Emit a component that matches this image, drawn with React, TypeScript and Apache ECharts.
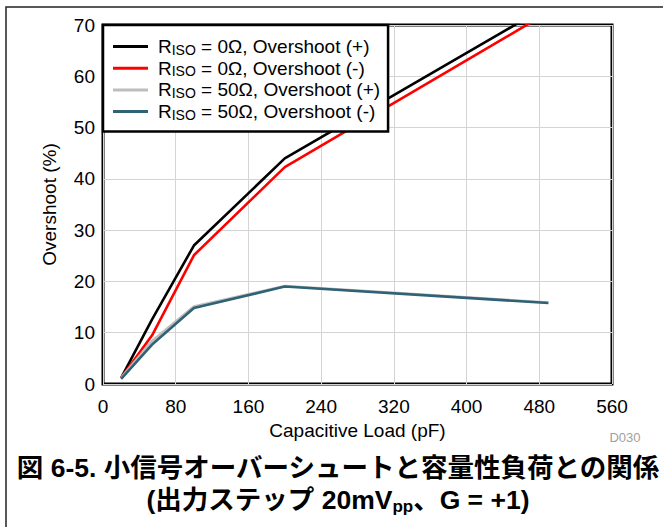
import React, { useEffect, useRef } from "react";
import * as echarts from "echarts";

const capLoad = [20, 54, 100, 200, 490];
const r0Pos = [1.2, 12.6, 27.0, 44.0, 73.8];
const r0Neg = [1.2, 9.5, 25.1, 42.3, 72.5];
const r50Pos = [1.2, 8.4, 15.1, 19.1, 15.9];
const r50Neg = [1.0, 7.7, 14.8, 19.0, 15.8];

const seriesNames = ["R0P", "R0N", "R50P", "R50N"];
const legendLabels: Record<string, string> = {
  R0P: "{g| }{a|R}{b|ISO}{a| = 0Ω, Overshoot (+)}",
  R0N: "{g| }{a|R}{b|ISO}{a| = 0Ω, Overshoot (-)}",
  R50P: "{g| }{a|R}{b|ISO}{a| = 50Ω, Overshoot (+)}",
  R50N: "{g| }{a|R}{b|ISO}{a| = 50Ω, Overshoot (-)}",
};
const colors = ["#000000", "#ff0000", "#bdbdbd", "#2f6275"];

const FONT = "'Liberation Sans', Arial, Helvetica, sans-serif";
const CJK = "'Liberation Sans', Arial, 'Noto Sans CJK JP', sans-serif";

export default function App() {
  const ref = useRef<HTMLDivElement>(null);
  useEffect(() => {
    if (!ref.current) return;
    const chart = echarts.init(ref.current, undefined, { renderer: "svg" });
    const mk = (vals: number[]) => capLoad.map((x, i) => [x, vals[i]]);
    const data = [r0Pos, r0Neg, r50Pos, r50Neg];
    chart.setOption({
      animation: false,
      backgroundColor: "#ffffff",
      textStyle: { fontFamily: FONT },
      grid: {
        left: 103,
        top: 25,
        right: 51,
        bottom: 143,
        show: true,
        borderColor: "#000",
        borderWidth: 3,
        backgroundColor: "transparent",
      },
      legend: {
        orient: "vertical",
        left: 103,
        top: 25,
        data: seriesNames,
        icon: "rect",
        itemWidth: 35,
        itemHeight: 3,
        itemGap: 2.2,
        padding: [12, 8, 10, 10],
        backgroundColor: "#fff",
        borderColor: "#000",
        borderWidth: 2.5,
        z: 10,
        formatter: (n: string) => legendLabels[n],
        textStyle: {
          color: "#000",
          rich: {
            g: { fontSize: 19, lineHeight: 20, width: 5, fontFamily: FONT },
            a: { fontSize: 19, lineHeight: 20, fontFamily: FONT, color: "#000" },
            b: { fontSize: 14, lineHeight: 8, verticalAlign: "bottom", fontFamily: FONT, color: "#000" },
          },
        },
      },
      xAxis: {
        type: "value",
        min: 0,
        max: 560,
        interval: 80,
        name: "Capacitive Load (pF)",
        nameLocation: "middle",
        nameGap: 33,
        nameTextStyle: { fontSize: 19, color: "#000", fontFamily: FONT },
        axisLine: { show: false },
        axisTick: { show: false },
        axisLabel: { fontSize: 19, color: "#000", margin: 13, fontFamily: FONT },
        splitLine: { show: true, lineStyle: { color: "#d4d4d4", width: 1 } },
      },
      yAxis: {
        type: "value",
        min: 0,
        max: 70,
        interval: 10,
        name: "Overshoot (%)",
        nameLocation: "middle",
        nameGap: 44,
        nameTextStyle: { fontSize: 19, color: "#000", fontFamily: FONT },
        axisLine: { show: false },
        axisTick: { show: false },
        axisLabel: { fontSize: 19, color: "#000", margin: 8, fontFamily: FONT },
        splitLine: { show: true, lineStyle: { color: "#d4d4d4", width: 1 } },
      },
      series: seriesNames.map((n, i) => ({
        name: n,
        type: "line",
        data: mk(data[i]),
        showSymbol: false,
        symbol: "none",
        clip: true,
        color: colors[i],
        lineStyle: { color: colors[i], width: 2.6 },
        z: i === 3 ? 4 : 3,
      })),
      graphic: [
        {
          type: "rect",
          shape: { x: 6, y: 7, width: 700, height: 600 },
          style: { fill: "none", stroke: "#222", lineWidth: 1.5 },
          z: 0,
          silent: true,
        },
        {
          type: "text",
          x: 625,
          y: 437,
          style: {
            text: "D030",
            fontSize: 13,
            fill: "#a0a0a0",
            fontFamily: FONT,
            align: "center",
            verticalAlign: "middle",
          },
        },
        {
          type: "text",
          x: 338,
          y: 468,
          style: {
            text: "図 6-5. 小信号オーバーシュートと容量性負荷との関係",
            fontSize: 26.5,
            fontWeight: "bold",
            fill: "#000",
            fontFamily: CJK,
            align: "center",
            verticalAlign: "middle",
          },
        },
        {
          type: "text",
          x: 338,
          y: 500,
          style: {
            text: "{m|(出力ステップ 20mV}{s|pp}{m|、G = +1)}",
            fill: "#000",
            align: "center",
            verticalAlign: "middle",
            rich: {
              m: { fontSize: 26.5, lineHeight: 30, fontWeight: "bold", fontFamily: CJK, fill: "#000" },
              s: { fontSize: 17, lineHeight: 16, fontWeight: "bold", verticalAlign: "bottom", fontFamily: CJK, fill: "#000" },
            },
          },
        },
      ],
    });
    return () => chart.dispose();
  }, []);
  return (
    <div
      ref={ref}
      style={{ position: "fixed", left: 0, top: 0, width: 663, height: 527 }}
    />
  );
}
